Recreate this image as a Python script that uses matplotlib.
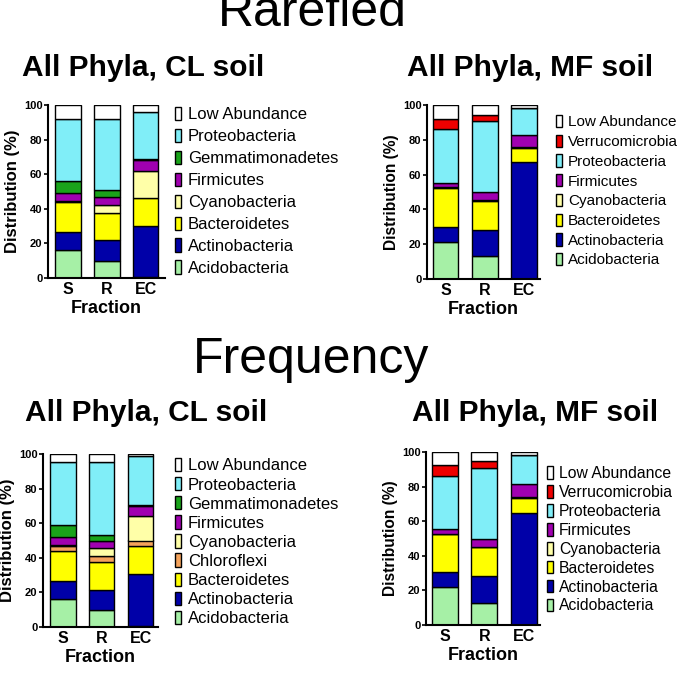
import numpy as np
import matplotlib
matplotlib.use('Agg')
import matplotlib.pyplot as plt
from matplotlib.patches import Patch

plt.rcParams['font.family'] = ['Liberation Sans', 'DejaVu Sans']

fractions = ['S', 'R', 'EC']

colors = {
    'Acidobacteria': '#a6f0a6',
    'Actinobacteria': '#0000a8',
    'Bacteroidetes': '#ffff00',
    'Chloroflexi': '#f5a35c',
    'Cyanobacteria': '#ffffa8',
    'Firmicutes': '#a000b0',
    'Gemmatimonadetes': '#1aa31a',
    'Proteobacteria': '#80eef8',
    'Verrucomicrobia': '#ee0000',
    'Low Abundance': '#ffffff',
}

# stacking order bottom -> top
phyla_cl = ['Acidobacteria', 'Actinobacteria', 'Bacteroidetes', 'Cyanobacteria',
            'Firmicutes', 'Gemmatimonadetes', 'Proteobacteria', 'Low Abundance']
phyla_cl_freq = ['Acidobacteria', 'Actinobacteria', 'Bacteroidetes', 'Chloroflexi',
                 'Cyanobacteria', 'Firmicutes', 'Gemmatimonadetes', 'Proteobacteria',
                 'Low Abundance']
phyla_mf = ['Acidobacteria', 'Actinobacteria', 'Bacteroidetes', 'Cyanobacteria',
            'Firmicutes', 'Proteobacteria', 'Verrucomicrobia', 'Low Abundance']

# % per phylum, columns S, R, EC
rare_cl = [
    [16.0, 10.0, 0.3],
    [10.5, 11.7, 29.7],
    [17.2, 15.8, 16.5],
    [0.9, 4.5, 15.5],
    [4.4, 5.0, 6.3],
    [7.0, 3.6, 0.3],
    [36.0, 41.4, 27.4],
    [8.0, 8.0, 4.0],
]
rare_mf = [
    [21.0, 13.4, 0.2],
    [9.0, 14.6, 67.2],
    [22.5, 16.8, 7.9],
    [0.3, 0.4, 0.3],
    [2.6, 5.0, 7.4],
    [30.6, 40.4, 15.0],
    [6.0, 3.8, 0.5],
    [8.0, 5.6, 1.5],
]
freq_cl = [
    [16.2, 10.0, 0.3],
    [10.2, 11.6, 30.5],
    [17.3, 16.0, 16.2],
    [2.9, 3.2, 3.0],
    [1.0, 4.9, 14.0],
    [4.2, 3.8, 6.0],
    [7.4, 3.5, 0.3],
    [36.0, 42.2, 28.3],
    [4.8, 4.8, 1.4],
]
freq_mf = [
    [21.7, 13.0, 0.2],
    [8.9, 15.3, 64.6],
    [21.9, 16.5, 8.7],
    [0.3, 0.4, 0.3],
    [2.6, 4.8, 7.9],
    [30.6, 41.0, 16.3],
    [6.3, 4.0, 0.5],
    [7.7, 5.0, 1.5],
]

W, H = 690, 690
fig = plt.figure(figsize=(6.9, 6.9), dpi=100)


def px_axes(left, right, top, bottom):
    return fig.add_axes([left / W, 1 - bottom / H, (right - left) / W, (bottom - top) / H])


def panel(ax, phyla, vals, xlim, ylab_size, leg_pos, leg_size, leg_space):
    x = np.arange(len(fractions))
    bottom = np.zeros(len(fractions))
    for name, v in zip(phyla, vals):
        v = np.array(v)
        ax.bar(x, v, width=0.66, bottom=bottom, color=colors[name],
               edgecolor='black', linewidth=1.0)
        bottom += v
    ax.set_xlim(*xlim)
    ax.set_ylim(0, 100)
    ax.set_yticks([0, 20, 40, 60, 80, 100])
    ax.set_xticks(x)
    ax.set_xticklabels(fractions, fontsize=11.5, fontweight='bold')
    for t in ax.get_yticklabels():
        t.set_fontsize(8)
        t.set_fontweight('bold')
    ax.tick_params(axis='y', length=3, width=1.2, pad=1)
    ax.tick_params(axis='x', length=0, pad=3)
    for s in ['top', 'right']:
        ax.spines[s].set_visible(False)
    for s in ['left', 'bottom']:
        ax.spines[s].set_linewidth(1.5)
    ax.set_ylabel('Distribution (%)', fontsize=ylab_size, fontweight='bold', labelpad=3)
    ax.set_xlabel('Fraction', fontsize=13, fontweight='bold', labelpad=2)
    handles = [Patch(facecolor=colors[n], edgecolor='black', linewidth=1.0, label=n)
               for n in phyla[::-1]]
    fig.legend(handles=handles, loc='upper left',
               bbox_to_anchor=(leg_pos[0] / W, 1 - leg_pos[1] / H),
               frameon=False, fontsize=leg_size, handlelength=0.38, handleheight=0.85,
               handletextpad=0.4, labelspacing=leg_space, borderpad=0, borderaxespad=0)


ax1 = px_axes(48, 165, 105, 278)
panel(ax1, phyla_cl, rare_cl, (-0.52, 2.5), 12, (175, 107), 12, 0.39)
ax2 = px_axes(427, 540, 105, 279)
panel(ax2, phyla_mf, rare_mf, (-0.47, 2.4), 11.2, (556, 115), 11, 0.35)
ax3 = px_axes(43, 158, 454, 627)
panel(ax3, phyla_cl_freq, freq_cl, (-0.51, 2.45), 12, (175, 458), 12, 0.22)
ax4 = px_axes(426, 540, 452, 625)
panel(ax4, phyla_mf, freq_mf, (-0.47, 2.4), 11.2, (547, 466), 11.3, 0.25)

fig.text(312 / W, 1 - 26 / H, 'Rarefied', fontsize=36, ha='center', va='baseline')
fig.text(311 / W, 1 - 373 / H, 'Frequency', fontsize=36, ha='center', va='baseline')
fig.text(143 / W, 1 - 68 / H, 'All Phyla, CL soil', fontsize=21.5, fontweight='bold',
         ha='center', va='center')
fig.text(530 / W, 1 - 68 / H, 'All Phyla, MF soil', fontsize=21.5, fontweight='bold',
         ha='center', va='center')
fig.text(146 / W, 1 - 413 / H, 'All Phyla, CL soil', fontsize=21.5, fontweight='bold',
         ha='center', va='center')
fig.text(535 / W, 1 - 413 / H, 'All Phyla, MF soil', fontsize=21.5, fontweight='bold',
         ha='center', va='center')

fig.savefig('out.png', dpi=100)
